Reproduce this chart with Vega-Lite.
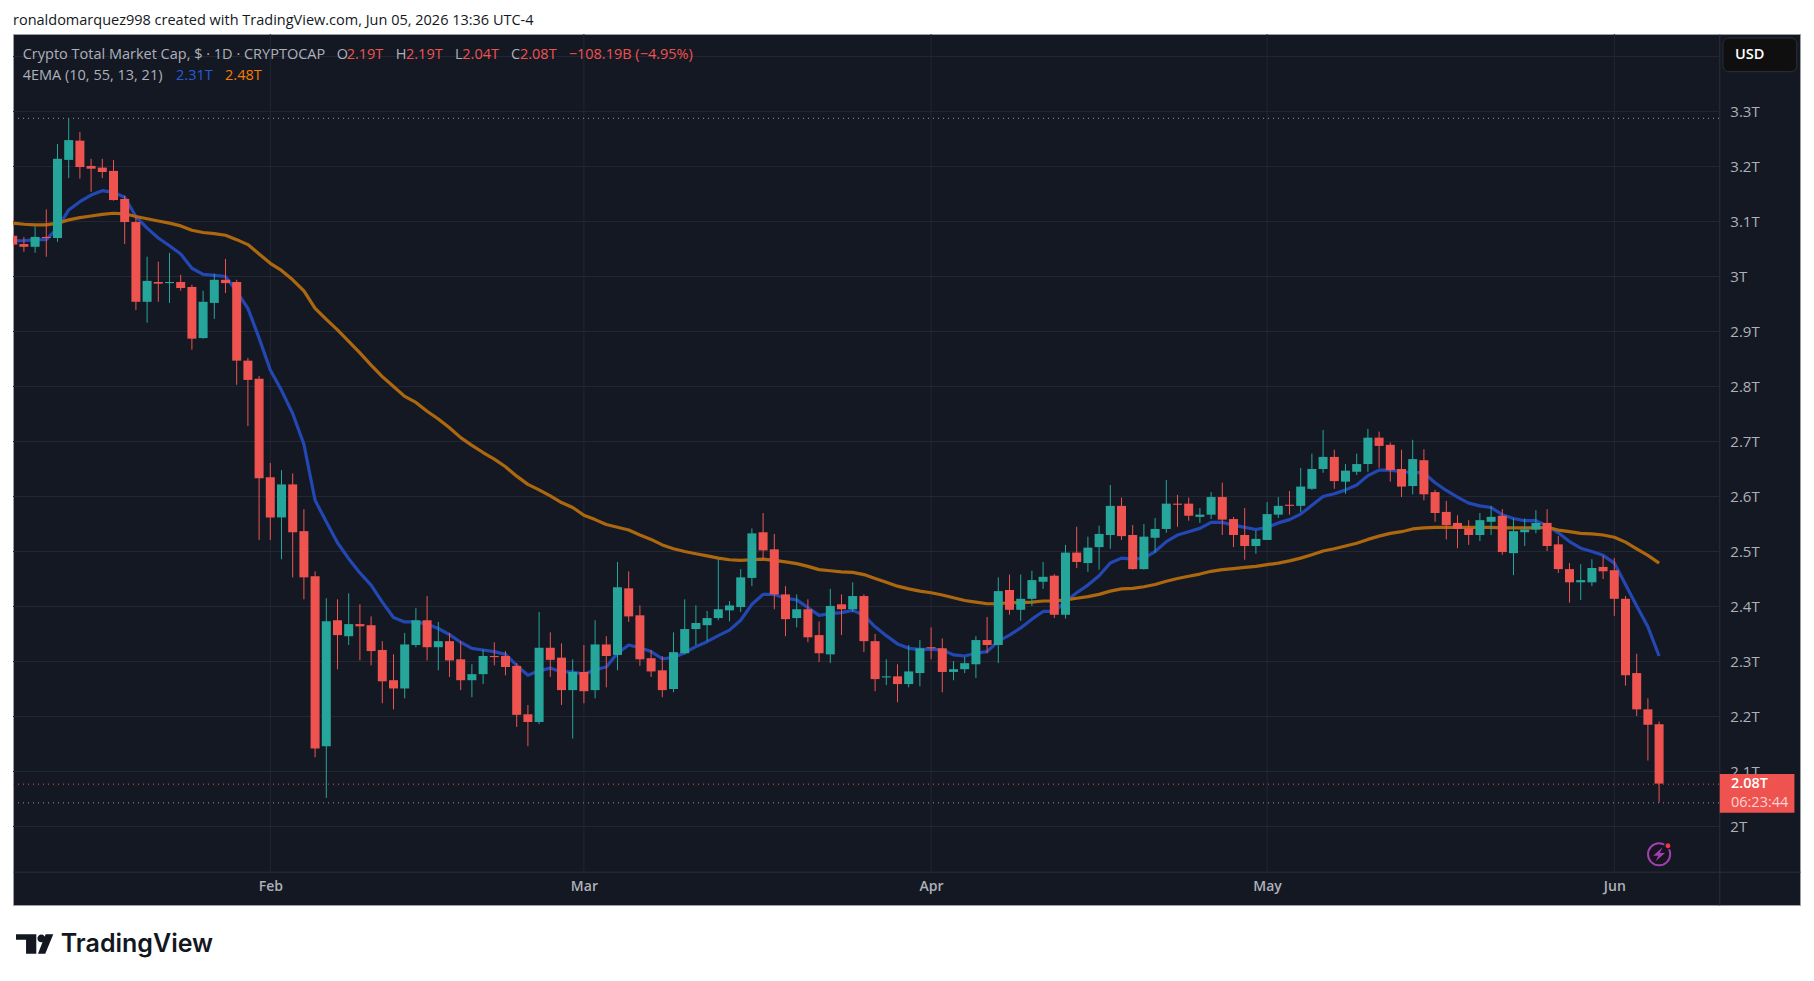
{
  "$schema": "https://vega.github.io/schema/vega-lite/v6.json",
  "width": 1787,
  "height": 871,
  "autosize": "none",
  "padding": {"left": 13, "top": 34, "right": 14, "bottom": 76},
  "background": "#ffffff",
  "view": {"fill": "#141823", "stroke": "#9a9da6", "strokeWidth": 1},
  "config": {"axis": {"grid": false, "ticks": false, "labelFont": "Open Sans", "labelFontSize": 15, "labelColor": "#aeb1ba"}},
  "datasets": {
    "candles": [
      {"date":"2026-01-09","o":3.074,"h":3.109,"l":3.029,"c":3.058,"ema10":3.065,"ema55":3.097},
      {"date":"2026-01-10","o":3.059,"h":3.072,"l":3.045,"c":3.054,"ema10":3.065,"ema55":3.095},
      {"date":"2026-01-11","o":3.054,"h":3.091,"l":3.043,"c":3.072,"ema10":3.067,"ema55":3.094},
      {"date":"2026-01-12","o":3.072,"h":3.122,"l":3.036,"c":3.07,"ema10":3.067,"ema55":3.094},
      {"date":"2026-01-13","o":3.07,"h":3.241,"l":3.063,"c":3.214,"ema10":3.088,"ema55":3.097},
      {"date":"2026-01-14","o":3.212,"h":3.288,"l":3.179,"c":3.248,"ema10":3.121,"ema55":3.103},
      {"date":"2026-01-15","o":3.247,"h":3.263,"l":3.178,"c":3.199,"ema10":3.136,"ema55":3.107},
      {"date":"2026-01-16","o":3.201,"h":3.214,"l":3.154,"c":3.196,"ema10":3.148,"ema55":3.11},
      {"date":"2026-01-17","o":3.198,"h":3.214,"l":3.179,"c":3.19,"ema10":3.156,"ema55":3.113},
      {"date":"2026-01-18","o":3.192,"h":3.212,"l":3.138,"c":3.139,"ema10":3.153,"ema55":3.115},
      {"date":"2026-01-19","o":3.141,"h":3.147,"l":3.059,"c":3.099,"ema10":3.144,"ema55":3.114},
      {"date":"2026-01-20","o":3.099,"h":3.109,"l":2.939,"c":2.954,"ema10":3.109,"ema55":3.109},
      {"date":"2026-01-21","o":2.954,"h":3.036,"l":2.916,"c":2.992,"ema10":3.088,"ema55":3.105},
      {"date":"2026-01-22","o":2.99,"h":3.027,"l":2.954,"c":2.987,"ema10":3.07,"ema55":3.101},
      {"date":"2026-01-23","o":2.988,"h":3.043,"l":2.952,"c":2.99,"ema10":3.056,"ema55":3.097},
      {"date":"2026-01-24","o":2.99,"h":3.003,"l":2.974,"c":2.979,"ema10":3.041,"ema55":3.092},
      {"date":"2026-01-25","o":2.981,"h":2.985,"l":2.867,"c":2.887,"ema10":3.015,"ema55":3.084},
      {"date":"2026-01-26","o":2.888,"h":2.974,"l":2.887,"c":2.954,"ema10":3.004,"ema55":3.08},
      {"date":"2026-01-27","o":2.952,"h":3.005,"l":2.923,"c":2.994,"ema10":3.002,"ema55":3.078},
      {"date":"2026-01-28","o":2.994,"h":3.032,"l":2.97,"c":2.988,"ema10":3.0,"ema55":3.075},
      {"date":"2026-01-29","o":2.99,"h":2.994,"l":2.803,"c":2.847,"ema10":2.973,"ema55":3.067},
      {"date":"2026-01-30","o":2.847,"h":2.852,"l":2.728,"c":2.812,"ema10":2.942,"ema55":3.058},
      {"date":"2026-01-31","o":2.814,"h":2.819,"l":2.521,"c":2.633,"ema10":2.888,"ema55":3.041},
      {"date":"2026-02-01","o":2.635,"h":2.661,"l":2.521,"c":2.562,"ema10":2.83,"ema55":3.024},
      {"date":"2026-02-02","o":2.562,"h":2.648,"l":2.486,"c":2.622,"ema10":2.793,"ema55":3.011},
      {"date":"2026-02-03","o":2.622,"h":2.642,"l":2.453,"c":2.535,"ema10":2.751,"ema55":2.994},
      {"date":"2026-02-04","o":2.537,"h":2.577,"l":2.413,"c":2.453,"ema10":2.695,"ema55":2.974},
      {"date":"2026-02-05","o":2.455,"h":2.464,"l":2.126,"c":2.142,"ema10":2.593,"ema55":2.942},
      {"date":"2026-02-06","o":2.146,"h":2.415,"l":2.052,"c":2.373,"ema10":2.554,"ema55":2.922},
      {"date":"2026-02-07","o":2.375,"h":2.413,"l":2.286,"c":2.348,"ema10":2.516,"ema55":2.903},
      {"date":"2026-02-08","o":2.346,"h":2.424,"l":2.33,"c":2.368,"ema10":2.487,"ema55":2.882},
      {"date":"2026-02-09","o":2.368,"h":2.404,"l":2.302,"c":2.364,"ema10":2.461,"ema55":2.861},
      {"date":"2026-02-10","o":2.366,"h":2.382,"l":2.293,"c":2.319,"ema10":2.439,"ema55":2.839},
      {"date":"2026-02-11","o":2.321,"h":2.337,"l":2.224,"c":2.264,"ema10":2.408,"ema55":2.818},
      {"date":"2026-02-12","o":2.266,"h":2.313,"l":2.213,"c":2.251,"ema10":2.38,"ema55":2.8},
      {"date":"2026-02-13","o":2.251,"h":2.352,"l":2.233,"c":2.331,"ema10":2.372,"ema55":2.782},
      {"date":"2026-02-14","o":2.33,"h":2.397,"l":2.326,"c":2.375,"ema10":2.372,"ema55":2.771},
      {"date":"2026-02-15","o":2.375,"h":2.419,"l":2.302,"c":2.326,"ema10":2.368,"ema55":2.755},
      {"date":"2026-02-16","o":2.326,"h":2.372,"l":2.284,"c":2.337,"ema10":2.36,"ema55":2.741},
      {"date":"2026-02-17","o":2.337,"h":2.352,"l":2.272,"c":2.302,"ema10":2.349,"ema55":2.725},
      {"date":"2026-02-18","o":2.304,"h":2.337,"l":2.248,"c":2.266,"ema10":2.335,"ema55":2.707},
      {"date":"2026-02-19","o":2.266,"h":2.295,"l":2.235,"c":2.277,"ema10":2.324,"ema55":2.693},
      {"date":"2026-02-20","o":2.277,"h":2.322,"l":2.259,"c":2.31,"ema10":2.321,"ema55":2.68},
      {"date":"2026-02-21","o":2.31,"h":2.335,"l":2.293,"c":2.308,"ema10":2.318,"ema55":2.668},
      {"date":"2026-02-22","o":2.31,"h":2.319,"l":2.275,"c":2.29,"ema10":2.313,"ema55":2.654},
      {"date":"2026-02-23","o":2.292,"h":2.297,"l":2.181,"c":2.203,"ema10":2.293,"ema55":2.637},
      {"date":"2026-02-24","o":2.204,"h":2.221,"l":2.146,"c":2.19,"ema10":2.275,"ema55":2.622},
      {"date":"2026-02-25","o":2.19,"h":2.39,"l":2.186,"c":2.325,"ema10":2.283,"ema55":2.612},
      {"date":"2026-02-26","o":2.325,"h":2.353,"l":2.272,"c":2.303,"ema10":2.288,"ema55":2.601},
      {"date":"2026-02-27","o":2.307,"h":2.333,"l":2.221,"c":2.248,"ema10":2.281,"ema55":2.589},
      {"date":"2026-02-28","o":2.248,"h":2.304,"l":2.16,"c":2.281,"ema10":2.281,"ema55":2.58},
      {"date":"2026-03-01","o":2.281,"h":2.33,"l":2.224,"c":2.246,"ema10":2.277,"ema55":2.566},
      {"date":"2026-03-02","o":2.248,"h":2.375,"l":2.233,"c":2.331,"ema10":2.285,"ema55":2.558},
      {"date":"2026-03-03","o":2.331,"h":2.346,"l":2.253,"c":2.31,"ema10":2.29,"ema55":2.549},
      {"date":"2026-03-04","o":2.312,"h":2.481,"l":2.284,"c":2.435,"ema10":2.315,"ema55":2.544},
      {"date":"2026-03-05","o":2.433,"h":2.464,"l":2.372,"c":2.382,"ema10":2.33,"ema55":2.539},
      {"date":"2026-03-06","o":2.384,"h":2.402,"l":2.292,"c":2.304,"ema10":2.325,"ema55":2.53},
      {"date":"2026-03-07","o":2.306,"h":2.321,"l":2.272,"c":2.282,"ema10":2.318,"ema55":2.522},
      {"date":"2026-03-08","o":2.284,"h":2.31,"l":2.235,"c":2.248,"ema10":2.305,"ema55":2.512},
      {"date":"2026-03-09","o":2.25,"h":2.353,"l":2.244,"c":2.317,"ema10":2.307,"ema55":2.505},
      {"date":"2026-03-10","o":2.315,"h":2.413,"l":2.313,"c":2.359,"ema10":2.316,"ema55":2.5},
      {"date":"2026-03-11","o":2.359,"h":2.402,"l":2.33,"c":2.37,"ema10":2.327,"ema55":2.496},
      {"date":"2026-03-12","o":2.366,"h":2.392,"l":2.337,"c":2.379,"ema10":2.336,"ema55":2.492},
      {"date":"2026-03-13","o":2.379,"h":2.486,"l":2.375,"c":2.395,"ema10":2.347,"ema55":2.488},
      {"date":"2026-03-14","o":2.393,"h":2.41,"l":2.373,"c":2.402,"ema10":2.357,"ema55":2.485},
      {"date":"2026-03-15","o":2.399,"h":2.468,"l":2.39,"c":2.453,"ema10":2.375,"ema55":2.484},
      {"date":"2026-03-16","o":2.452,"h":2.542,"l":2.437,"c":2.533,"ema10":2.404,"ema55":2.485},
      {"date":"2026-03-17","o":2.535,"h":2.57,"l":2.484,"c":2.502,"ema10":2.422,"ema55":2.486},
      {"date":"2026-03-18","o":2.504,"h":2.532,"l":2.395,"c":2.422,"ema10":2.422,"ema55":2.484},
      {"date":"2026-03-19","o":2.422,"h":2.437,"l":2.346,"c":2.377,"ema10":2.415,"ema55":2.481},
      {"date":"2026-03-20","o":2.379,"h":2.422,"l":2.362,"c":2.395,"ema10":2.412,"ema55":2.478},
      {"date":"2026-03-21","o":2.395,"h":2.413,"l":2.335,"c":2.344,"ema10":2.398,"ema55":2.473},
      {"date":"2026-03-22","o":2.348,"h":2.373,"l":2.299,"c":2.315,"ema10":2.384,"ema55":2.467},
      {"date":"2026-03-23","o":2.313,"h":2.432,"l":2.297,"c":2.401,"ema10":2.387,"ema55":2.465},
      {"date":"2026-03-24","o":2.404,"h":2.422,"l":2.348,"c":2.395,"ema10":2.389,"ema55":2.463},
      {"date":"2026-03-25","o":2.395,"h":2.444,"l":2.39,"c":2.419,"ema10":2.393,"ema55":2.462},
      {"date":"2026-03-26","o":2.419,"h":2.422,"l":2.317,"c":2.337,"ema10":2.384,"ema55":2.458},
      {"date":"2026-03-27","o":2.337,"h":2.35,"l":2.246,"c":2.268,"ema10":2.363,"ema55":2.451},
      {"date":"2026-03-28","o":2.271,"h":2.304,"l":2.257,"c":2.273,"ema10":2.347,"ema55":2.444},
      {"date":"2026-03-29","o":2.273,"h":2.295,"l":2.226,"c":2.259,"ema10":2.332,"ema55":2.437},
      {"date":"2026-03-30","o":2.259,"h":2.33,"l":2.253,"c":2.282,"ema10":2.324,"ema55":2.432},
      {"date":"2026-03-31","o":2.279,"h":2.339,"l":2.255,"c":2.324,"ema10":2.322,"ema55":2.428},
      {"date":"2026-04-01","o":2.326,"h":2.362,"l":2.304,"c":2.324,"ema10":2.322,"ema55":2.425},
      {"date":"2026-04-02","o":2.324,"h":2.342,"l":2.244,"c":2.281,"ema10":2.321,"ema55":2.421},
      {"date":"2026-04-03","o":2.281,"h":2.301,"l":2.266,"c":2.286,"ema10":2.312,"ema55":2.416},
      {"date":"2026-04-04","o":2.286,"h":2.308,"l":2.279,"c":2.297,"ema10":2.31,"ema55":2.411},
      {"date":"2026-04-05","o":2.295,"h":2.346,"l":2.27,"c":2.339,"ema10":2.315,"ema55":2.408},
      {"date":"2026-04-06","o":2.339,"h":2.381,"l":2.315,"c":2.33,"ema10":2.318,"ema55":2.405},
      {"date":"2026-04-07","o":2.33,"h":2.453,"l":2.297,"c":2.428,"ema10":2.337,"ema55":2.405},
      {"date":"2026-04-08","o":2.43,"h":2.458,"l":2.385,"c":2.394,"ema10":2.348,"ema55":2.407},
      {"date":"2026-04-09","o":2.394,"h":2.458,"l":2.374,"c":2.414,"ema10":2.361,"ema55":2.407},
      {"date":"2026-04-10","o":2.414,"h":2.465,"l":2.401,"c":2.448,"ema10":2.377,"ema55":2.408},
      {"date":"2026-04-11","o":2.445,"h":2.481,"l":2.432,"c":2.454,"ema10":2.391,"ema55":2.41},
      {"date":"2026-04-12","o":2.456,"h":2.459,"l":2.379,"c":2.385,"ema10":2.391,"ema55":2.41},
      {"date":"2026-04-13","o":2.385,"h":2.512,"l":2.378,"c":2.498,"ema10":2.409,"ema55":2.412},
      {"date":"2026-04-14","o":2.498,"h":2.545,"l":2.47,"c":2.481,"ema10":2.425,"ema55":2.415},
      {"date":"2026-04-15","o":2.479,"h":2.527,"l":2.463,"c":2.507,"ema10":2.439,"ema55":2.418},
      {"date":"2026-04-16","o":2.508,"h":2.547,"l":2.467,"c":2.532,"ema10":2.456,"ema55":2.422},
      {"date":"2026-04-17","o":2.53,"h":2.621,"l":2.505,"c":2.583,"ema10":2.479,"ema55":2.428},
      {"date":"2026-04-18","o":2.583,"h":2.598,"l":2.521,"c":2.528,"ema10":2.488,"ema55":2.432},
      {"date":"2026-04-19","o":2.53,"h":2.548,"l":2.467,"c":2.468,"ema10":2.486,"ema55":2.433},
      {"date":"2026-04-20","o":2.468,"h":2.55,"l":2.467,"c":2.527,"ema10":2.488,"ema55":2.436},
      {"date":"2026-04-21","o":2.525,"h":2.561,"l":2.498,"c":2.541,"ema10":2.5,"ema55":2.44},
      {"date":"2026-04-22","o":2.541,"h":2.63,"l":2.534,"c":2.587,"ema10":2.518,"ema55":2.446},
      {"date":"2026-04-23","o":2.587,"h":2.603,"l":2.545,"c":2.585,"ema10":2.53,"ema55":2.451},
      {"date":"2026-04-24","o":2.587,"h":2.598,"l":2.556,"c":2.565,"ema10":2.536,"ema55":2.455},
      {"date":"2026-04-25","o":2.563,"h":2.579,"l":2.552,"c":2.567,"ema10":2.542,"ema55":2.459},
      {"date":"2026-04-26","o":2.567,"h":2.608,"l":2.559,"c":2.599,"ema10":2.553,"ema55":2.464},
      {"date":"2026-04-27","o":2.599,"h":2.625,"l":2.53,"c":2.558,"ema10":2.553,"ema55":2.467},
      {"date":"2026-04-28","o":2.559,"h":2.563,"l":2.508,"c":2.53,"ema10":2.548,"ema55":2.469},
      {"date":"2026-04-29","o":2.53,"h":2.579,"l":2.485,"c":2.51,"ema10":2.544,"ema55":2.471},
      {"date":"2026-04-30","o":2.51,"h":2.538,"l":2.496,"c":2.523,"ema10":2.54,"ema55":2.473},
      {"date":"2026-05-01","o":2.521,"h":2.59,"l":2.521,"c":2.568,"ema10":2.544,"ema55":2.476},
      {"date":"2026-05-02","o":2.567,"h":2.599,"l":2.561,"c":2.583,"ema10":2.552,"ema55":2.479},
      {"date":"2026-05-03","o":2.585,"h":2.61,"l":2.567,"c":2.583,"ema10":2.558,"ema55":2.483},
      {"date":"2026-05-04","o":2.583,"h":2.652,"l":2.572,"c":2.618,"ema10":2.568,"ema55":2.488},
      {"date":"2026-05-05","o":2.614,"h":2.678,"l":2.612,"c":2.65,"ema10":2.584,"ema55":2.494},
      {"date":"2026-05-06","o":2.65,"h":2.721,"l":2.643,"c":2.672,"ema10":2.6,"ema55":2.501},
      {"date":"2026-05-07","o":2.672,"h":2.685,"l":2.614,"c":2.628,"ema10":2.605,"ema55":2.505},
      {"date":"2026-05-08","o":2.627,"h":2.659,"l":2.605,"c":2.647,"ema10":2.612,"ema55":2.51},
      {"date":"2026-05-09","o":2.645,"h":2.678,"l":2.639,"c":2.659,"ema10":2.621,"ema55":2.515},
      {"date":"2026-05-10","o":2.659,"h":2.723,"l":2.645,"c":2.707,"ema10":2.638,"ema55":2.522},
      {"date":"2026-05-11","o":2.707,"h":2.718,"l":2.652,"c":2.692,"ema10":2.648,"ema55":2.528},
      {"date":"2026-05-12","o":2.694,"h":2.698,"l":2.627,"c":2.648,"ema10":2.648,"ema55":2.533},
      {"date":"2026-05-13","o":2.65,"h":2.685,"l":2.599,"c":2.618,"ema10":2.645,"ema55":2.536},
      {"date":"2026-05-14","o":2.619,"h":2.703,"l":2.604,"c":2.668,"ema10":2.644,"ema55":2.541},
      {"date":"2026-05-15","o":2.666,"h":2.686,"l":2.593,"c":2.604,"ema10":2.643,"ema55":2.543},
      {"date":"2026-05-16","o":2.608,"h":2.612,"l":2.554,"c":2.57,"ema10":2.625,"ema55":2.544},
      {"date":"2026-05-17","o":2.572,"h":2.592,"l":2.522,"c":2.548,"ema10":2.611,"ema55":2.544},
      {"date":"2026-05-18","o":2.552,"h":2.566,"l":2.506,"c":2.541,"ema10":2.599,"ema55":2.544},
      {"date":"2026-05-19","o":2.542,"h":2.557,"l":2.512,"c":2.53,"ema10":2.588,"ema55":2.544},
      {"date":"2026-05-20","o":2.53,"h":2.57,"l":2.519,"c":2.557,"ema10":2.583,"ema55":2.544},
      {"date":"2026-05-21","o":2.554,"h":2.583,"l":2.53,"c":2.563,"ema10":2.58,"ema55":2.544},
      {"date":"2026-05-22","o":2.565,"h":2.577,"l":2.494,"c":2.499,"ema10":2.567,"ema55":2.543},
      {"date":"2026-05-23","o":2.497,"h":2.56,"l":2.457,"c":2.537,"ema10":2.56,"ema55":2.543},
      {"date":"2026-05-24","o":2.535,"h":2.56,"l":2.51,"c":2.54,"ema10":2.556,"ema55":2.543},
      {"date":"2026-05-25","o":2.54,"h":2.575,"l":2.533,"c":2.552,"ema10":2.556,"ema55":2.543},
      {"date":"2026-05-26","o":2.552,"h":2.577,"l":2.501,"c":2.51,"ema10":2.547,"ema55":2.544},
      {"date":"2026-05-27","o":2.513,"h":2.528,"l":2.461,"c":2.468,"ema10":2.534,"ema55":2.539},
      {"date":"2026-05-28","o":2.468,"h":2.479,"l":2.407,"c":2.444,"ema10":2.518,"ema55":2.536},
      {"date":"2026-05-29","o":2.444,"h":2.477,"l":2.412,"c":2.448,"ema10":2.506,"ema55":2.533},
      {"date":"2026-05-30","o":2.444,"h":2.486,"l":2.437,"c":2.47,"ema10":2.5,"ema55":2.532},
      {"date":"2026-05-31","o":2.472,"h":2.492,"l":2.45,"c":2.464,"ema10":2.493,"ema55":2.53},
      {"date":"2026-06-01","o":2.466,"h":2.488,"l":2.383,"c":2.414,"ema10":2.479,"ema55":2.526},
      {"date":"2026-06-02","o":2.414,"h":2.419,"l":2.256,"c":2.275,"ema10":2.44,"ema55":2.517},
      {"date":"2026-06-03","o":2.279,"h":2.314,"l":2.201,"c":2.213,"ema10":2.401,"ema55":2.505},
      {"date":"2026-06-04","o":2.213,"h":2.233,"l":2.12,"c":2.185,"ema10":2.363,"ema55":2.493},
      {"date":"2026-06-05","o":2.186,"h":2.191,"l":2.044,"c":2.078,"ema10":2.31,"ema55":2.479}
    ],
    "levels": [{"level":2.0},{"level":2.1},{"level":2.2},{"level":2.3},{"level":2.4},{"level":2.5},{"level":2.6},{"level":2.7},{"level":2.8},{"level":2.9},{"level":3.0},{"level":3.1},{"level":3.2},{"level":3.3},{"level":3.4}],
    "months": [{"month":"2026-02-01"},{"month":"2026-03-01"},{"month":"2026-04-01"},{"month":"2026-05-01"},{"month":"2026-06-01"}],
    "extremes": [{"price":3.2876,"kind":"high"},{"price":2.043,"kind":"low"},{"price":2.077,"kind":"last"}],
    "notes": [
      {"date":"2026-01-09T00:39:00Z","v":3.464,"label":"ronaldomarquez998 created with TradingView.com, Jun 05, 2026 13:36 UTC-4","role":"page"},
      {"date":"2026-01-09T21:24:00Z","v":3.4035,"label":"Crypto Total Market Cap, $ · 1D · CRYPTOCAP","role":"muted"},
      {"date":"2026-02-06T22:18:00Z","v":3.4035,"label":"O","role":"muted"},
      {"date":"2026-02-07T19:42:00Z","v":3.4035,"label":"2.19T","role":"down"},
      {"date":"2026-02-12T04:42:00Z","v":3.4035,"label":"H","role":"muted"},
      {"date":"2026-02-13T02:48:00Z","v":3.4035,"label":"2.19T","role":"down"},
      {"date":"2026-02-17T11:48:00Z","v":3.4035,"label":"L","role":"muted"},
      {"date":"2026-02-18T03:24:00Z","v":3.4035,"label":"2.04T","role":"down"},
      {"date":"2026-02-22T11:48:00Z","v":3.4035,"label":"C","role":"muted"},
      {"date":"2026-02-23T07:00:00Z","v":3.4035,"label":"2.08T","role":"down"},
      {"date":"2026-02-27T15:24:00Z","v":3.4035,"label":"−108.19B (−4.95%)","role":"down"},
      {"date":"2026-01-09T21:24:00Z","v":3.3645,"label":"4EMA (10, 55, 13, 21)","role":"muted"},
      {"date":"2026-01-23T14:00:00Z","v":3.3645,"label":"2.31T","role":"fast"},
      {"date":"2026-01-27T23:00:00Z","v":3.3645,"label":"2.48T","role":"slow"},
      {"date":"2026-06-11T10:00:00Z","v":2.0433,"label":"06:23:44","role":"timer"}
    ],
    "tags": [
      {"date":"2026-06-11T18:43:00Z","v":3.4036,"label":"USD"},
      {"date":"2026-06-11T10:00:00Z","v":2.0767,"label":"2.08T"}
    ],
    "brand": [{"date":"2026-01-13T07:00:00Z","label":"TradingView"}],
    "brandMark": [{"date":"2026-01-10T23:00:00Z"}],
    "flash": [{"date":"2026-06-05","v":1.9495}],
    "flashDot": [{"date":"2026-06-05T19:00:00Z","v":1.965}]
  },
  "layer": [
    {
      "data": {"name": "months"},
      "mark": {"type": "rule", "color": "#232733", "strokeWidth": 1},
      "encoding": {
        "x": {
          "field": "month", "type": "temporal",
          "scale": {"type": "utc", "nice": false, "padding": 0, "domain": [{"year":2026,"month":1,"date":9,"hours":0,"minutes":39,"utc":true},{"year":2026,"month":6,"date":17,"hours":13,"minutes":56,"utc":true}]},
          "axis": {
            "title": null, "orient": "bottom", "offset": -33.3,
            "values": [{"year":2026,"month":2,"date":1,"utc":true},{"year":2026,"month":3,"date":1,"utc":true},{"year":2026,"month":4,"date":1,"utc":true},{"year":2026,"month":5,"date":1,"utc":true},{"year":2026,"month":6,"date":1,"utc":true}],
            "labelExpr": "utcFormat(datum.value,'%b')", "labelPadding": 8, "labelFontSize": 14, "labelFontWeight": 600,
            "domainColor": "#2c303b", "labelFlush": false, "labelOverlap": false
          }
        },
        "y": {
          "datum": 3.4409, "type": "quantitative",
          "scale": {"domain": [1.8573, 3.4409], "nice": false, "zero": false},
          "axis": {
            "title": null, "orient": "right", "offset": -80.7,
            "values": [2.0,2.1,2.2,2.3,2.4,2.5,2.6,2.7,2.8,2.9,3.0,3.1,3.2,3.3],
            "labelExpr": "format(datum.value,'.1~f')+'T'", "labelPadding": 10.5, "labelFlush": false, "labelOverlap": false,
            "domainColor": "#2c303b"
          }
        },
        "y2": {"datum": 1.9178}
      }
    },
    {
      "data": {"name": "levels"},
      "mark": {"type": "rule", "color": "#232733", "strokeWidth": 1},
      "encoding": {
        "x": {"datum": {"year":2026,"month":1,"date":9,"hours":0,"minutes":39,"utc":true}, "type": "temporal"},
        "x2": {"datum": {"year":2026,"month":6,"date":10,"hours":9,"utc":true}},
        "y": {"field": "level", "type": "quantitative"}
      }
    },
    {
      "data": {"name": "extremes"},
      "mark": {"type": "rule", "strokeWidth": 1, "strokeDash": [1, 4]},
      "encoding": {
        "x": {"datum": {"year":2026,"month":1,"date":9,"hours":0,"minutes":39,"utc":true}, "type": "temporal"},
        "x2": {"datum": {"year":2026,"month":6,"date":10,"hours":9,"utc":true}},
        "y": {"field": "price", "type": "quantitative"},
        "color": {"condition": {"test": "datum.kind === 'last'", "value": "#ef5350"}, "value": "#9598a1"}
      }
    },
    {
      "data": {"name": "candles"},
      "mark": {"type": "line", "color": "#2348b3", "strokeWidth": 3.2, "strokeJoin": "round", "clip": true},
      "encoding": {
        "x": {"field": "date", "type": "temporal"},
        "y": {"field": "ema10", "type": "quantitative"}
      }
    },
    {
      "data": {"name": "candles"},
      "mark": {"type": "line", "color": "#ad680f", "strokeWidth": 3.2, "strokeJoin": "round", "clip": true},
      "encoding": {
        "x": {"field": "date", "type": "temporal"},
        "y": {"field": "ema55", "type": "quantitative"}
      }
    },
    {
      "data": {"name": "candles"},
      "mark": {"type": "rule", "strokeWidth": 1, "clip": true},
      "encoding": {
        "x": {"field": "date", "type": "temporal"},
        "y": {"field": "l", "type": "quantitative"},
        "y2": {"field": "h"},
        "color": {"condition": {"test": "datum.c >= datum.o", "value": "#26a69a"}, "value": "#ef5350"}
      }
    },
    {
      "data": {"name": "candles"},
      "mark": {"type": "bar", "size": 9, "clip": true},
      "encoding": {
        "x": {"field": "date", "type": "temporal"},
        "y": {"field": "o", "type": "quantitative"},
        "y2": {"field": "c"},
        "color": {"condition": {"test": "datum.c >= datum.o", "value": "#26a69a"}, "value": "#ef5350"}
      }
    },
    {
      "mark": {"type": "rect", "fill": "#ef5350"},
      "data": {"values": [{"tag": "last"}]},
      "encoding": {
        "x": {"datum": {"year":2026,"month":6,"date":10,"hours":10,"utc":true}, "type": "temporal"},
        "x2": {"datum": {"year":2026,"month":6,"date":17,"hours":2,"utc":true}},
        "y": {"datum": 2.0955, "type": "quantitative"},
        "y2": {"datum": 2.025}
      }
    },
    {
      "mark": {"type": "rect", "fill": "#0f0f0f", "stroke": "#2e3039", "strokeWidth": 1, "cornerRadius": 6},
      "data": {"values": [{"tag": "currency"}]},
      "encoding": {
        "x": {"datum": {"year":2026,"month":6,"date":10,"hours":16,"minutes":48,"utc":true}, "type": "temporal"},
        "x2": {"datum": {"year":2026,"month":6,"date":17,"hours":7,"utc":true}},
        "y": {"datum": 3.4336, "type": "quantitative"},
        "y2": {"datum": 3.3724}
      }
    },
    {
      "data": {"name": "notes"},
      "mark": {"type": "text", "align": "left", "baseline": "middle", "font": "Open Sans", "fontSize": 14.5},
      "encoding": {
        "x": {"field": "date", "type": "temporal"},
        "y": {"field": "v", "type": "quantitative"},
        "text": {"field": "label"},
        "color": {
          "field": "role", "type": "nominal", "legend": null,
          "scale": {
            "domain": ["page", "muted", "down", "fast", "slow", "timer"],
            "range": ["#131722", "#aeb1ba", "#ef5350", "#2a5bd7", "#f57c00", "#fbd3d2"]
          }
        }
      }
    },
    {
      "data": {"name": "tags"},
      "mark": {"type": "text", "align": "left", "baseline": "middle", "font": "Open Sans", "fontSize": 14.5, "fontWeight": 600, "color": "#ffffff"},
      "encoding": {
        "x": {"field": "date", "type": "temporal"},
        "y": {"field": "v", "type": "quantitative"},
        "text": {"field": "label"}
      }
    },
    {
      "data": {"name": "brand"},
      "mark": {"type": "text", "align": "left", "baseline": "middle", "font": "Inter", "fontSize": 25, "fontWeight": 600, "color": "#131722"},
      "encoding": {
        "x": {"field": "date", "type": "temporal"},
        "y": {"datum": 1.7873, "type": "quantitative"},
        "text": {"field": "label"}
      }
    },
    {
      "data": {"name": "brandMark"},
      "mark": {"type": "point", "filled": true, "opacity": 1, "color": "#131722", "size": 1391, "shape": "M-1,-0.52 H0.09 V0.52 H-0.46 V-0.23 H-1 Z M0.15,-0.3 A0.21,0.21 0 1 1 0.57,-0.3 A0.21,0.21 0 1 1 0.15,-0.3 Z M0.59,-0.52 H1 L0.57,0.52 H0.18 Z"},
      "encoding": {
        "x": {"field": "date", "type": "temporal"},
        "y": {"datum": 1.7864, "type": "quantitative"}
      }
    },
    {
      "data": {"name": "flash"},
      "mark": {"type": "point", "shape": "circle", "size": 490, "fill": "#17131f", "fillOpacity": 1, "stroke": "#a23fb3", "strokeWidth": 2, "opacity": 1},
      "encoding": {
        "x": {"field": "date", "type": "temporal"},
        "y": {"field": "v", "type": "quantitative"}
      }
    },
    {
      "data": {"name": "flash"},
      "mark": {"type": "point", "filled": true, "opacity": 1, "color": "#a23fb3", "size": 196, "shape": "M0.5,-1 L-0.85,0.2 H-0.1 L-0.5,1 L0.85,-0.2 H0.1 Z"},
      "encoding": {
        "x": {"field": "date", "type": "temporal"},
        "y": {"field": "v", "type": "quantitative"}
      }
    },
    {
      "data": {"name": "flashDot"},
      "mark": {"type": "point", "shape": "circle", "size": 40, "fill": "#f23645", "fillOpacity": 1, "stroke": "#141823", "strokeWidth": 1.5, "opacity": 1},
      "encoding": {
        "x": {"field": "date", "type": "temporal"},
        "y": {"field": "v", "type": "quantitative"}
      }
    }
  ]
}
